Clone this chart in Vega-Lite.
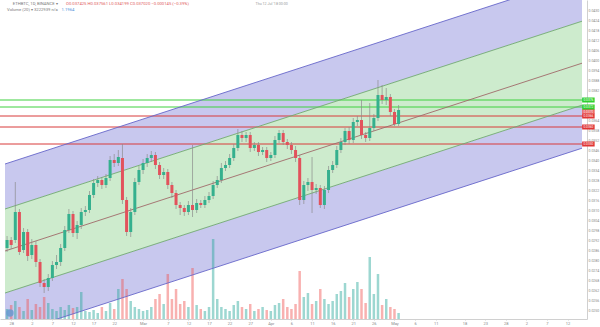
{
  "$schema": "https://vega.github.io/schema/vega-lite/v6.json",
  "width": 587,
  "height": 319,
  "autosize": {"type": "none"},
  "padding": {"left": 0, "top": 0, "right": 13, "bottom": 8},
  "background": "white",
  "config": {
    "view": {"stroke": null},
    "font": "Roboto",
    "axisX": {
      "labelFontSize": 4,
      "labelColor": "#888888",
      "labelPadding": 1,
      "tickSize": 1,
      "tickColor": "#d0d0d0",
      "domainColor": "#d0d0d0",
      "grid": false,
      "labelOverlap": false,
      "labelFlush": false,
      "labelBound": false
    }
  },
  "datasets": {
    "ch": [
      {"d": -0.5, "ub": 155, "ug": 110, "mid": 68, "lg": 26, "lb": -17},
      {"d": 139.5, "ub": 342.8, "ug": 297.8, "mid": 255.8, "lg": 213.8, "lb": 170.8}
    ],
    "hlG": [{"v": 219, "p": "0.0376"}, {"v": 212, "p": "0.0372"}],
    "hlR": [{"v": 203, "p": "0.0366"}, {"v": 192, "p": "0.0360"}, {"v": 175, "p": "0.0350"}],
    "last": [{"v": 207.5, "p": "0.0370"}],
    "one": [{}],
    "c": [
      {"d":0,"o":71,"h":83,"l":67,"c":79,"vol":10000},
      {"d":1,"o":79,"h":82,"l":70,"c":74,"vol":14000},
      {"d":2,"o":79,"h":137,"l":76,"c":107,"vol":18000},
      {"d":3,"o":107,"h":110,"l":64,"c":67,"vol":12000},
      {"d":4,"o":69,"h":91,"l":66,"c":87,"vol":8000},
      {"d":5,"o":87,"h":90,"l":58,"c":63,"vol":20000},
      {"d":6,"o":64,"h":80,"l":60,"c":74,"vol":9000},
      {"d":7,"o":74,"h":78,"l":52,"c":57,"vol":15000},
      {"d":8,"o":57,"h":60,"l":32,"c":36,"vol":12000},
      {"d":9,"o":36,"h":40,"l":26,"c":32,"vol":22000},
      {"d":10,"o":32,"h":45,"l":28,"c":41,"vol":16000},
      {"d":11,"o":41,"h":58,"l":38,"c":54,"vol":10000},
      {"d":12,"o":54,"h":64,"l":50,"c":57,"vol":8000},
      {"d":13,"o":57,"h":75,"l":53,"c":71,"vol":12000},
      {"d":14,"o":71,"h":93,"l":68,"c":89,"vol":9000},
      {"d":15,"o":89,"h":110,"l":86,"c":105,"vol":14000},
      {"d":16,"o":105,"h":108,"l":82,"c":86,"vol":11000},
      {"d":17,"o":86,"h":98,"l":80,"c":94,"vol":12000},
      {"d":18,"o":94,"h":111,"l":90,"c":107,"vol":27000},
      {"d":19,"o":107,"h":113,"l":103,"c":109,"vol":8000},
      {"d":20,"o":109,"h":128,"l":106,"c":124,"vol":7000},
      {"d":21,"o":124,"h":140,"l":121,"c":136,"vol":9000},
      {"d":22,"o":136,"h":143,"l":132,"c":139,"vol":6000},
      {"d":23,"o":139,"h":142,"l":130,"c":134,"vol":12000},
      {"d":24,"o":134,"h":145,"l":131,"c":141,"vol":8000},
      {"d":25,"o":141,"h":163,"l":138,"c":159,"vol":16000},
      {"d":26,"o":159,"h":165,"l":152,"c":156,"vol":10000},
      {"d":27,"o":156,"h":169,"l":153,"c":162,"vol":30000},
      {"d":28,"o":161,"h":175,"l":115,"c":119,"vol":40000},
      {"d":29,"o":119,"h":122,"l":83,"c":87,"vol":30000},
      {"d":30,"o":87,"h":111,"l":82,"c":107,"vol":18000},
      {"d":31,"o":107,"h":141,"l":104,"c":137,"vol":12000},
      {"d":32,"o":137,"h":153,"l":134,"c":149,"vol":10000},
      {"d":33,"o":149,"h":160,"l":145,"c":156,"vol":8000},
      {"d":34,"o":156,"h":165,"l":152,"c":161,"vol":9000},
      {"d":35,"o":161,"h":168,"l":157,"c":164,"vol":12000},
      {"d":36,"o":164,"h":167,"l":150,"c":154,"vol":20000},
      {"d":37,"o":154,"h":157,"l":140,"c":144,"vol":25000},
      {"d":38,"o":144,"h":151,"l":140,"c":147,"vol":15000},
      {"d":39,"o":147,"h":150,"l":130,"c":134,"vol":45000},
      {"d":40,"o":134,"h":137,"l":121,"c":126,"vol":20000},
      {"d":41,"o":126,"h":129,"l":110,"c":114,"vol":30000},
      {"d":42,"o":114,"h":117,"l":104,"c":111,"vol":15000},
      {"d":43,"o":111,"h":114,"l":103,"c":107,"vol":18000},
      {"d":44,"o":107,"h":118,"l":104,"c":114,"vol":12000},
      {"d":45,"o":114,"h":174,"l":102,"c":109,"vol":51000},
      {"d":46,"o":109,"h":120,"l":106,"c":116,"vol":14000},
      {"d":47,"o":116,"h":119,"l":111,"c":114,"vol":10000},
      {"d":48,"o":114,"h":123,"l":111,"c":119,"vol":8000},
      {"d":49,"o":119,"h":127,"l":116,"c":123,"vol":12000},
      {"d":50,"o":123,"h":138,"l":120,"c":134,"vol":80000},
      {"d":51,"o":134,"h":143,"l":131,"c":139,"vol":20000},
      {"d":52,"o":139,"h":156,"l":136,"c":151,"vol":12000},
      {"d":53,"o":151,"h":158,"l":148,"c":154,"vol":10000},
      {"d":54,"o":154,"h":165,"l":151,"c":161,"vol":8000},
      {"d":55,"o":161,"h":175,"l":158,"c":171,"vol":14000},
      {"d":56,"o":171,"h":190,"l":168,"c":184,"vol":18000},
      {"d":57,"o":184,"h":188,"l":177,"c":181,"vol":12000},
      {"d":58,"o":181,"h":187,"l":177,"c":184,"vol":10000},
      {"d":59,"o":184,"h":187,"l":167,"c":171,"vol":15000},
      {"d":60,"o":171,"h":177,"l":168,"c":174,"vol":8000},
      {"d":61,"o":174,"h":177,"l":163,"c":167,"vol":10000},
      {"d":62,"o":167,"h":172,"l":164,"c":169,"vol":12000},
      {"d":63,"o":169,"h":172,"l":157,"c":161,"vol":9000},
      {"d":64,"o":161,"h":167,"l":158,"c":164,"vol":8000},
      {"d":65,"o":164,"h":183,"l":161,"c":179,"vol":14000},
      {"d":66,"o":179,"h":189,"l":176,"c":186,"vol":16000},
      {"d":67,"o":186,"h":189,"l":174,"c":177,"vol":20000},
      {"d":68,"o":177,"h":180,"l":170,"c":174,"vol":12000},
      {"d":69,"o":174,"h":177,"l":165,"c":169,"vol":10000},
      {"d":70,"o":169,"h":173,"l":157,"c":161,"vol":15000},
      {"d":71,"o":161,"h":164,"l":114,"c":119,"vol":48000},
      {"d":72,"o":119,"h":138,"l":115,"c":134,"vol":22000},
      {"d":73,"o":134,"h":141,"l":128,"c":137,"vol":26000},
      {"d":74,"o":137,"h":162,"l":106,"c":129,"vol":15000},
      {"d":75,"o":129,"h":135,"l":125,"c":131,"vol":18000},
      {"d":76,"o":131,"h":134,"l":111,"c":114,"vol":30000},
      {"d":77,"o":114,"h":133,"l":110,"c":129,"vol":20000},
      {"d":78,"o":129,"h":153,"l":126,"c":149,"vol":15000},
      {"d":79,"o":149,"h":158,"l":146,"c":154,"vol":18000},
      {"d":80,"o":154,"h":173,"l":151,"c":169,"vol":25000},
      {"d":81,"o":169,"h":181,"l":166,"c":177,"vol":28000},
      {"d":82,"o":177,"h":191,"l":174,"c":188,"vol":36000},
      {"d":83,"o":188,"h":192,"l":175,"c":179,"vol":22000},
      {"d":84,"o":179,"h":201,"l":176,"c":197,"vol":30000},
      {"d":85,"o":197,"h":203,"l":193,"c":199,"vol":37000},
      {"d":86,"o":199,"h":219,"l":180,"c":184,"vol":30000},
      {"d":87,"o":184,"h":187,"l":177,"c":181,"vol":16000},
      {"d":88,"o":181,"h":216,"l":178,"c":191,"vol":62000},
      {"d":89,"o":191,"h":205,"l":188,"c":201,"vol":25000},
      {"d":90,"o":201,"h":239,"l":198,"c":224,"vol":45000},
      {"d":91,"o":224,"h":234,"l":215,"c":219,"vol":14000},
      {"d":92,"o":219,"h":231,"l":214,"c":222,"vol":20000},
      {"d":93,"o":222,"h":225,"l":203,"c":207,"vol":12000},
      {"d":94,"o":207,"h":210,"l":193,"c":195,"vol":10000},
      {"d":95,"o":195,"h":214,"l":193,"c":209,"vol":6000}
    ]
  },
  "layer": [
    {
      "encoding": {
        "x": {
          "field": "d", "type": "quantitative",
          "scale": {"domain": [-0.5, 139.5], "nice": false, "zero": false},
          "axis": {"title": null, "values": [1, 6, 11, 16, 21, 26, 33, 39, 44, 49, 54, 59, 64, 69, 74, 79, 84, 89, 94, 99, 104, 111, 116, 121, 126, 131, 136],
            "labelExpr": "date(datetime(2018, 2, datum.value - 32)) == 1 ? timeFormat(datetime(2018, 2, datum.value - 32), '%b') : timeFormat(datetime(2018, 2, datum.value - 32), '%e')"}
        }
      },
      "layer": [
        {
          "data": {"name": "ch"},
          "mark": {"type": "area", "clip": true, "color": "#c8c8ee"},
          "encoding": {
            "y": {"field": "ub", "type": "quantitative", "scale": {"domain": [0, 319], "nice": false, "zero": false}, "axis": null},
            "y2": {"field": "ug"}
          }
        },
        {
          "data": {"name": "ch"},
          "mark": {"type": "area", "clip": true, "color": "#cdebcd"},
          "encoding": {
            "y": {"field": "ug", "type": "quantitative", "scale": {"domain": [0, 319], "nice": false, "zero": false}, "axis": null},
            "y2": {"field": "lg"}
          }
        },
        {
          "data": {"name": "ch"},
          "mark": {"type": "area", "clip": true, "color": "#c8c8ee"},
          "encoding": {
            "y": {"field": "lg", "type": "quantitative", "scale": {"domain": [0, 319], "nice": false, "zero": false}, "axis": null},
            "y2": {"field": "lb"}
          }
        }
      ]
    },
    {
      "data": {"name": "c"},
      "mark": {"type": "bar", "size": 2.5, "opacity": 0.45, "clip": true},
      "encoding": {
        "x": {
          "field": "d", "type": "quantitative",
          "scale": {"domain": [-0.5, 139.5], "nice": false, "zero": false},
          "axis": {"title": null, "values": [1, 6, 11, 16, 21, 26, 33, 39, 44, 49, 54, 59, 64, 69, 74, 79, 84, 89, 94, 99, 104, 111, 116, 121, 126, 131, 136],
            "labelExpr": "date(datetime(2018, 2, datum.value - 32)) == 1 ? timeFormat(datetime(2018, 2, datum.value - 32), '%b') : timeFormat(datetime(2018, 2, datum.value - 32), '%e')"}
        },
        "y": {"field": "vol", "type": "quantitative", "scale": {"domain": [0, 319000], "nice": false}, "axis": null},
        "color": {"condition": {"test": "datum.c >= datum.o", "value": "#26a69a"}, "value": "#ef5350"}
      }
    },
    {
      "data": {"name": "hlG"},
      "mark": {"type": "rule", "color": "#3fd13f", "strokeWidth": 1},
      "encoding": {
        "y": {"field": "v", "type": "quantitative", "scale": {"domain": [0, 319], "nice": false, "zero": false}, "axis": null}
      }
    },
    {
      "data": {"name": "hlR"},
      "mark": {"type": "rule", "color": "#d83a3a", "strokeWidth": 1},
      "encoding": {
        "y": {"field": "v", "type": "quantitative", "scale": {"domain": [0, 319], "nice": false, "zero": false}, "axis": null}
      }
    },
    {
      "data": {"name": "ch"},
      "transform": [{"fold": ["ub", "ug", "mid", "lg", "lb"], "as": ["line", "val"]}],
      "mark": {"type": "line", "clip": true, "strokeWidth": 0.9},
      "encoding": {
        "x": {
          "field": "d", "type": "quantitative",
          "scale": {"domain": [-0.5, 139.5], "nice": false, "zero": false},
          "axis": {"title": null, "values": [1, 6, 11, 16, 21, 26, 33, 39, 44, 49, 54, 59, 64, 69, 74, 79, 84, 89, 94, 99, 104, 111, 116, 121, 126, 131, 136],
            "labelExpr": "date(datetime(2018, 2, datum.value - 32)) == 1 ? timeFormat(datetime(2018, 2, datum.value - 32), '%b') : timeFormat(datetime(2018, 2, datum.value - 32), '%e')"}
        },
        "y": {"field": "val", "type": "quantitative", "scale": {"domain": [0, 319], "nice": false, "zero": false}, "axis": null},
        "detail": {"field": "line"},
        "color": {"field": "line", "type": "nominal", "legend": null,
          "scale": {"domain": ["ub", "ug", "mid", "lg", "lb"], "range": ["#6767c9", "#6fa86f", "#a06a6a", "#6fa86f", "#6767c9"]}}
      }
    },
    {
      "data": {"name": "c"},
      "mark": {"type": "rule", "strokeWidth": 0.8, "color": "#8a8a8a", "opacity": 0.85},
      "encoding": {
        "x": {
          "field": "d", "type": "quantitative",
          "scale": {"domain": [-0.5, 139.5], "nice": false, "zero": false},
          "axis": {"title": null, "values": [1, 6, 11, 16, 21, 26, 33, 39, 44, 49, 54, 59, 64, 69, 74, 79, 84, 89, 94, 99, 104, 111, 116, 121, 126, 131, 136],
            "labelExpr": "date(datetime(2018, 2, datum.value - 32)) == 1 ? timeFormat(datetime(2018, 2, datum.value - 32), '%b') : timeFormat(datetime(2018, 2, datum.value - 32), '%e')"}
        },
        "y": {"field": "l", "type": "quantitative", "scale": {"domain": [0, 319], "nice": false, "zero": false}, "axis": null},
        "y2": {"field": "h"}
      }
    },
    {
      "data": {"name": "c"},
      "mark": {"type": "bar", "size": 3},
      "encoding": {
        "x": {
          "field": "d", "type": "quantitative",
          "scale": {"domain": [-0.5, 139.5], "nice": false, "zero": false},
          "axis": {"title": null, "values": [1, 6, 11, 16, 21, 26, 33, 39, 44, 49, 54, 59, 64, 69, 74, 79, 84, 89, 94, 99, 104, 111, 116, 121, 126, 131, 136],
            "labelExpr": "date(datetime(2018, 2, datum.value - 32)) == 1 ? timeFormat(datetime(2018, 2, datum.value - 32), '%b') : timeFormat(datetime(2018, 2, datum.value - 32), '%e')"}
        },
        "y": {
          "field": "o", "type": "quantitative",
          "scale": {"domain": [0, 319], "nice": false, "zero": false},
          "axis": {
            "orient": "right",
            "title": null,
            "values": [9, 19, 29, 39, 49, 59, 69, 79, 89, 99, 109, 119, 129, 139, 149, 159, 169, 179, 189, 199, 229, 239, 249, 259, 269, 279, 289, 299, 309],
            "labelExpr": "format(0.02446 + datum.value * 0.00006, '.4f')",
            "labelFontSize": 3.5,
            "labelColor": "#888888",
            "labelPadding": 1,
            "ticks": false,
            "domainColor": "#d0d0d0",
            "grid": false,
            "labelOverlap": false,
            "labelBound": false
          }
        },
        "y2": {"field": "c"},
        "color": {"condition": {"test": "datum.c >= datum.o", "value": "#35b08e"}, "value": "#e2525c"}
      }
    },
    {
      "data": {"name": "hlR"},
      "mark": {"type": "tick", "orient": "horizontal", "size": 12.5, "thickness": 5, "color": "#e03434", "opacity": 1},
      "encoding": {
        "x": {"datum": 141.05, "type": "quantitative", "scale": {"domain": [-0.5, 139.5], "nice": false, "zero": false},
          "axis": {"title": null, "values": [1, 6, 11, 16, 21, 26, 33, 39, 44, 49, 54, 59, 64, 69, 74, 79, 84, 89, 94, 99, 104, 111, 116, 121, 126, 131, 136],
            "labelExpr": "date(datetime(2018, 2, datum.value - 32)) == 1 ? timeFormat(datetime(2018, 2, datum.value - 32), '%b') : timeFormat(datetime(2018, 2, datum.value - 32), '%e')"}},
        "y": {"field": "v", "type": "quantitative", "scale": {"domain": [0, 319], "nice": false, "zero": false}, "axis": null}
      }
    },
    {
      "data": {"name": "last"},
      "mark": {"type": "tick", "orient": "horizontal", "size": 12.5, "thickness": 5, "color": "#e85a5a", "opacity": 1},
      "encoding": {
        "x": {"datum": 141.05, "type": "quantitative", "scale": {"domain": [-0.5, 139.5], "nice": false, "zero": false},
          "axis": {"title": null, "values": [1, 6, 11, 16, 21, 26, 33, 39, 44, 49, 54, 59, 64, 69, 74, 79, 84, 89, 94, 99, 104, 111, 116, 121, 126, 131, 136],
            "labelExpr": "date(datetime(2018, 2, datum.value - 32)) == 1 ? timeFormat(datetime(2018, 2, datum.value - 32), '%b') : timeFormat(datetime(2018, 2, datum.value - 32), '%e')"}},
        "y": {"field": "v", "type": "quantitative", "scale": {"domain": [0, 319], "nice": false, "zero": false}, "axis": null}
      }
    },
    {
      "data": {"name": "hlG"},
      "mark": {"type": "tick", "orient": "horizontal", "size": 12.5, "thickness": 5, "color": "#2fcf2f", "opacity": 1},
      "encoding": {
        "x": {"datum": 141.05, "type": "quantitative", "scale": {"domain": [-0.5, 139.5], "nice": false, "zero": false},
          "axis": {"title": null, "values": [1, 6, 11, 16, 21, 26, 33, 39, 44, 49, 54, 59, 64, 69, 74, 79, 84, 89, 94, 99, 104, 111, 116, 121, 126, 131, 136],
            "labelExpr": "date(datetime(2018, 2, datum.value - 32)) == 1 ? timeFormat(datetime(2018, 2, datum.value - 32), '%b') : timeFormat(datetime(2018, 2, datum.value - 32), '%e')"}},
        "y": {"field": "v", "type": "quantitative", "scale": {"domain": [0, 319], "nice": false, "zero": false}, "axis": null}
      }
    },
    {
      "data": {"values": [{"v": 219, "p": "0.0376"}, {"v": 212, "p": "0.0372"}, {"v": 207.5, "p": "0.0370"}, {"v": 203, "p": "0.0366"}, {"v": 192, "p": "0.0360"}, {"v": 175, "p": "0.0350"}]},
      "mark": {"type": "text", "fontSize": 3.2, "color": "white", "align": "center", "baseline": "middle"},
      "encoding": {
        "x": {"datum": 141.05, "type": "quantitative", "scale": {"domain": [-0.5, 139.5], "nice": false, "zero": false},
          "axis": {"title": null, "values": [1, 6, 11, 16, 21, 26, 33, 39, 44, 49, 54, 59, 64, 69, 74, 79, 84, 89, 94, 99, 104, 111, 116, 121, 126, 131, 136],
            "labelExpr": "date(datetime(2018, 2, datum.value - 32)) == 1 ? timeFormat(datetime(2018, 2, datum.value - 32), '%b') : timeFormat(datetime(2018, 2, datum.value - 32), '%e')"}},
        "y": {"field": "v", "type": "quantitative", "scale": {"domain": [0, 319], "nice": false, "zero": false}, "axis": null},
        "text": {"field": "p"}
      }
    },
    {
      "data": {"name": "one"},
      "mark": {"type": "text", "fontSize": 4.2, "color": "#7a7a7a", "align": "left", "baseline": "middle"},
      "encoding": {
        "x": {"datum": 1.4, "type": "quantitative", "scale": {"domain": [-0.5, 139.5], "nice": false, "zero": false},
          "axis": {"title": null, "values": [1, 6, 11, 16, 21, 26, 33, 39, 44, 49, 54, 59, 64, 69, 74, 79, 84, 89, 94, 99, 104, 111, 116, 121, 126, 131, 136],
            "labelExpr": "date(datetime(2018, 2, datum.value - 32)) == 1 ? timeFormat(datetime(2018, 2, datum.value - 32), '%b') : timeFormat(datetime(2018, 2, datum.value - 32), '%e')"}},
        "y": {"datum": 315, "type": "quantitative", "scale": {"domain": [0, 319], "nice": false, "zero": false}, "axis": null},
        "text": {"value": "ETHBTC, 1D, BINANCE ▾"}
      }
    },
    {
      "data": {"name": "one"},
      "mark": {"type": "text", "fontSize": 4.2, "color": "#e05a5a", "align": "left", "baseline": "middle"},
      "encoding": {
        "x": {"datum": 14.3, "type": "quantitative", "scale": {"domain": [-0.5, 139.5], "nice": false, "zero": false},
          "axis": {"title": null, "values": [1, 6, 11, 16, 21, 26, 33, 39, 44, 49, 54, 59, 64, 69, 74, 79, 84, 89, 94, 99, 104, 111, 116, 121, 126, 131, 136],
            "labelExpr": "date(datetime(2018, 2, datum.value - 32)) == 1 ? timeFormat(datetime(2018, 2, datum.value - 32), '%b') : timeFormat(datetime(2018, 2, datum.value - 32), '%e')"}},
        "y": {"datum": 315, "type": "quantitative", "scale": {"domain": [0, 319], "nice": false, "zero": false}, "axis": null},
        "text": {"value": "O0.037425  H0.037561  L0.034199  C0.037020  −0.000145 (−0.39%)"}
      }
    },
    {
      "data": {"name": "one"},
      "mark": {"type": "text", "fontSize": 4.2, "color": "#7a7a7a", "align": "left", "baseline": "middle"},
      "encoding": {
        "x": {"datum": 0, "type": "quantitative", "scale": {"domain": [-0.5, 139.5], "nice": false, "zero": false},
          "axis": {"title": null, "values": [1, 6, 11, 16, 21, 26, 33, 39, 44, 49, 54, 59, 64, 69, 74, 79, 84, 89, 94, 99, 104, 111, 116, 121, 126, 131, 136],
            "labelExpr": "date(datetime(2018, 2, datum.value - 32)) == 1 ? timeFormat(datetime(2018, 2, datum.value - 32), '%b') : timeFormat(datetime(2018, 2, datum.value - 32), '%e')"}},
        "y": {"datum": 309, "type": "quantitative", "scale": {"domain": [0, 319], "nice": false, "zero": false}, "axis": null},
        "text": {"value": "Volume (20) ▾  3222939  n/a"}
      }
    },
    {
      "data": {"name": "one"},
      "mark": {"type": "text", "fontSize": 4.2, "color": "#4a90d9", "align": "left", "baseline": "middle"},
      "encoding": {
        "x": {"datum": 13.2, "type": "quantitative", "scale": {"domain": [-0.5, 139.5], "nice": false, "zero": false},
          "axis": {"title": null, "values": [1, 6, 11, 16, 21, 26, 33, 39, 44, 49, 54, 59, 64, 69, 74, 79, 84, 89, 94, 99, 104, 111, 116, 121, 126, 131, 136],
            "labelExpr": "date(datetime(2018, 2, datum.value - 32)) == 1 ? timeFormat(datetime(2018, 2, datum.value - 32), '%b') : timeFormat(datetime(2018, 2, datum.value - 32), '%e')"}},
        "y": {"datum": 309, "type": "quantitative", "scale": {"domain": [0, 319], "nice": false, "zero": false}, "axis": null},
        "text": {"value": "1.1964"}
      }
    },
    {
      "data": {"name": "one"},
      "mark": {"type": "text", "fontSize": 3.6, "color": "#999999", "align": "center", "baseline": "middle"},
      "encoding": {
        "x": {"datum": 64.2, "type": "quantitative", "scale": {"domain": [-0.5, 139.5], "nice": false, "zero": false},
          "axis": {"title": null, "values": [1, 6, 11, 16, 21, 26, 33, 39, 44, 49, 54, 59, 64, 69, 74, 79, 84, 89, 94, 99, 104, 111, 116, 121, 126, 131, 136],
            "labelExpr": "date(datetime(2018, 2, datum.value - 32)) == 1 ? timeFormat(datetime(2018, 2, datum.value - 32), '%b') : timeFormat(datetime(2018, 2, datum.value - 32), '%e')"}},
        "y": {"datum": 315.5, "type": "quantitative", "scale": {"domain": [0, 319], "nice": false, "zero": false}, "axis": null},
        "text": {"value": "Thu 12 Jul '18  00:00"}
      }
    },
    {
      "data": {"name": "one"},
      "mark": {"type": "point", "filled": true, "shape": "circle", "size": 55, "color": "#6c9bd2", "opacity": 0.9},
      "encoding": {
        "x": {"datum": 0.7, "type": "quantitative", "scale": {"domain": [-0.5, 139.5], "nice": false, "zero": false},
          "axis": {"title": null, "values": [1, 6, 11, 16, 21, 26, 33, 39, 44, 49, 54, 59, 64, 69, 74, 79, 84, 89, 94, 99, 104, 111, 116, 121, 126, 131, 136],
            "labelExpr": "date(datetime(2018, 2, datum.value - 32)) == 1 ? timeFormat(datetime(2018, 2, datum.value - 32), '%b') : timeFormat(datetime(2018, 2, datum.value - 32), '%e')"}},
        "y": {"datum": 6, "type": "quantitative", "scale": {"domain": [0, 319], "nice": false, "zero": false}, "axis": null}
      }
    }
  ],
  "resolve": {"scale": {"y": "independent"}}
}
